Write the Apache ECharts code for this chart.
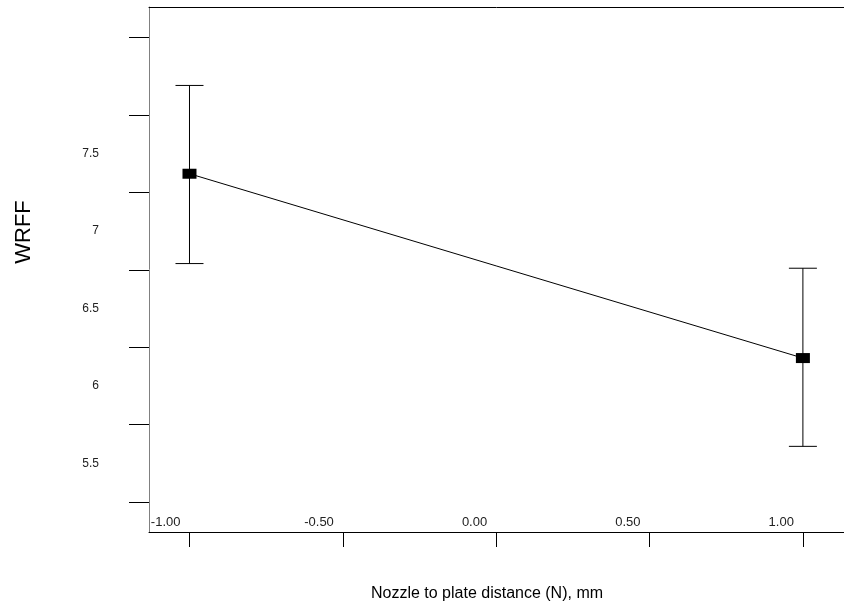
<!DOCTYPE html>
<html>
<head>
<meta charset="utf-8">
<script src="https://cdn.jsdelivr.net/npm/echarts@6/dist/echarts.min.js"></script>
<style>
html,body{margin:0;padding:0;background:#fff;}
#c{width:844px;height:607px;}
</style>
</head>
<body>
<div id="c"></div>
<script>
// Data
var xLevels = [-1, 1];
var means = [7.37, 6.18];
var lowerCI = [6.79, 5.61];
var upperCI = [7.94, 6.76];
var xTicks = [-1, -0.5, 0, 0.5, 1];
var yTickMarks = [5.25, 5.75, 6.25, 6.75, 7.25, 7.75, 8.25];
var yLabels = [5.5, 6, 6.5, 7, 7.5];
var xTitle = 'Nozzle to plate distance (N), mm';
var yTitle = 'WRFF';

var font = '"Liberation Sans", Arial, sans-serif';
var chart = echarts.init(document.getElementById('c'), null, {renderer: 'canvas'});

var lineData = xLevels.map(function (x, i) { return [x, means[i]]; });
var barData = xLevels.map(function (x, i) { return [x, lowerCI[i], upperCI[i]]; });

chart.setOption({
  animation: false,
  backgroundColor: '#fff',
  grid: {left: 149, right: 0, top: 7, bottom: 75, containLabel: false},
  graphic: [{
    type: 'text',
    x: 487, y: 594,
    style: {text: xTitle, fontFamily: font, fontSize: 16, fill: '#000', align: 'center', verticalAlign: 'middle'}
  }, {
    type: 'text',
    x: 24, y: 232,
    rotation: Math.PI / 2,
    style: {text: yTitle, fontFamily: font, fontSize: 22, fill: '#000', align: 'center', verticalAlign: 'middle'}
  }],
  xAxis: [{
    type: 'value',
    position: 'bottom',
    min: -1.132,
    max: 1.134,
    axisLine: {show: true, onZero: false, lineStyle: {color: '#000', width: 1}},
    axisTick: {show: true, inside: false, length: 15, customValues: xTicks, lineStyle: {color: '#000'}},
    axisLabel: {
      show: true, inside: true, margin: 3, customValues: xTicks,
      align: 'right', padding: [0, 9, 0, 0],
      fontFamily: font, fontSize: 13, color: '#222',
      formatter: function (v) { return v.toFixed(2); }
    },
    splitLine: {show: false}
  }, {
    type: 'value',
    position: 'top',
    min: -1.132,
    max: 1.134,
    axisLine: {show: true, onZero: false, lineStyle: {color: '#000', width: 1}},
    axisTick: {show: false},
    axisLabel: {show: false},
    splitLine: {show: false}
  }],
  yAxis: {
    type: 'value',
    min: 5.0571,
    max: 8.4464,
    axisLine: {show: true, onZero: false, lineStyle: {color: '#808080', width: 1}},
    axisTick: {show: true, inside: false, length: 20, customValues: yTickMarks, lineStyle: {color: '#000'}},
    axisLabel: {
      show: true, customValues: yLabels, margin: 50, align: 'right',
      fontFamily: font, fontSize: 12, color: '#222'
    },
    splitLine: {show: false}
  },
  series: [{
    type: 'custom',
    xAxisIndex: 0,
    data: barData,
    z: 1,
    renderItem: function (params, api) {
      var x = api.value(0);
      var lo = api.coord([x, api.value(1)]);
      var hi = api.coord([x, api.value(2)]);
      var half = 14;
      var st = {stroke: '#000', lineWidth: 1};
      return {
        type: 'group',
        children: [
          {type: 'line', shape: {x1: lo[0], y1: lo[1], x2: hi[0], y2: hi[1]}, style: st},
          {type: 'line', shape: {x1: hi[0] - half, y1: hi[1], x2: hi[0] + half, y2: hi[1]}, style: st},
          {type: 'line', shape: {x1: lo[0] - half, y1: lo[1], x2: lo[0] + half, y2: lo[1]}, style: st}
        ]
      };
    }
  }, {
    type: 'line',
    xAxisIndex: 0,
    data: lineData,
    z: 3,
    symbol: 'rect',
    symbolSize: [14, 10],
    itemStyle: {color: '#000'},
    lineStyle: {color: '#000', width: 1}
  }]
});
</script>
</body>
</html>
